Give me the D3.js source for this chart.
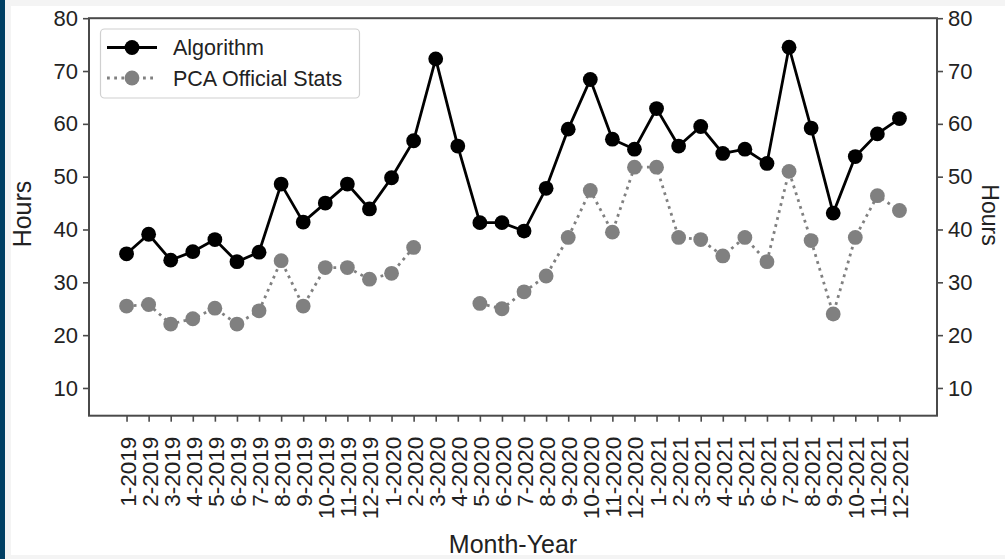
<!DOCTYPE html>
<html>
<head>
<meta charset="utf-8">
<script src="https://cdn.jsdelivr.net/npm/d3@7"></script>
<style>
  html, body { margin: 0; padding: 0; background: #f4f4f4; }
  svg { display: block; }
  text { font-family: "Liberation Sans", Arial, sans-serif; fill: #222; }
</style>
</head>
<body>
<svg id="chart" width="1005" height="559"></svg>
<script>
const months = [
  '1-2019', '2-2019', '3-2019', '4-2019', '5-2019', '6-2019', '7-2019', '8-2019', '9-2019', '10-2019', '11-2019', '12-2019',
  '1-2020', '2-2020', '3-2020', '4-2020', '5-2020', '6-2020', '7-2020', '8-2020', '9-2020', '10-2020', '11-2020', '12-2020',
  '1-2021', '2-2021', '3-2021', '4-2021', '5-2021', '6-2021', '7-2021', '8-2021', '9-2021', '10-2021', '11-2021', '12-2021'
];

const algorithm = [
  35.4, 39.1, 34.2, 35.8, 38.1, 33.9, 35.7, 48.6, 41.4, 45.0, 48.6, 43.9,
  49.8, 56.8, 72.3, 55.8, 41.3, 41.3, 39.7, 47.8, 59.0, 68.4, 57.1, 55.2,
  62.9, 55.8, 59.5, 54.4, 55.2, 52.5, 74.5, 59.2, 43.1, 53.8, 58.1, 61.0
];

// null = no official figure that month
const pcaStats = [
  25.5, 25.8, 22.1, 23.1, 25.1, 22.1, 24.6, 34.1, 25.5, 32.8, 32.8, 30.6,
  31.7, 36.6, null, null, 26.0, 25.0, 28.2, 31.2, 38.5, 47.4, 39.5, 51.8,
  51.8, 38.5, 38.1, 35.0, 38.5, 33.9, 51.0, 37.9, 24.0, 38.5, 46.4, 43.6
];

const yTicks = [10, 20, 30, 40, 50, 60, 70, 80];

const svg = d3.select('#chart');

// page background bits around the figure
svg.append('rect').attr('x', 0).attr('y', 0).attr('width', 1005).attr('height', 559).attr('fill', '#f4f4f4');
svg.append('rect').attr('x', 11).attr('y', 6).attr('width', 994).attr('height', 549).attr('fill', '#ffffff');
svg.append('rect').attr('x', 0).attr('y', 0).attr('width', 5).attr('height', 559).attr('fill', '#003f63');

const plot = { left: 89, right: 937, top: 18.2, bottom: 415.7 };

const x = d3.scaleLinear()
  .domain([-1.7, months.length - 1 + 1.7])
  .range([plot.left, plot.right]);

const y = d3.scaleLinear()
  .domain([4.75, 80])
  .range([plot.bottom, plot.top]);

const axisColor = '#4a4a4a';
const font = '"Liberation Sans", Arial, sans-serif';

// left axis
const yLeft = svg.append('g')
  .attr('transform', `translate(${plot.left},0)`)
  .call(d3.axisLeft(y).tickValues(yTicks).tickSize(6).tickPadding(5));
// right axis
const yRight = svg.append('g')
  .attr('transform', `translate(${plot.right},0)`)
  .call(d3.axisRight(y).tickValues(yTicks).tickSize(6).tickPadding(5));

[yLeft, yRight].forEach(g => {
  g.select('.domain').remove();
  g.selectAll('line').attr('stroke', axisColor).attr('stroke-width', 1.6);
  g.selectAll('text').attr('font-size', 22).attr('fill', '#222').attr('font-family', font);
});

// bottom axis
const xAxis = svg.append('g')
  .attr('transform', `translate(0,${plot.bottom})`)
  .call(d3.axisBottom(x).tickValues(d3.range(months.length)).tickFormat(i => months[i]).tickSize(6));
xAxis.select('.domain').remove();
xAxis.selectAll('line').attr('stroke', axisColor).attr('stroke-width', 1.6);
xAxis.selectAll('text')
  .attr('font-size', 22.5)
  .attr('font-family', font)
  .attr('fill', '#222')
  .attr('text-anchor', 'end')
  .attr('dy', null)
  .attr('y', null)
  .attr('transform', 'translate(1,21) rotate(-90)')
  .attr('dominant-baseline', 'central');

// frame
svg.append('rect')
  .attr('x', plot.left).attr('y', plot.top)
  .attr('width', plot.right - plot.left).attr('height', plot.bottom - plot.top)
  .attr('fill', 'none').attr('stroke', axisColor).attr('stroke-width', 2);

// axis titles
svg.append('text')
  .attr('x', (plot.left + plot.right) / 2).attr('y', 553)
  .attr('text-anchor', 'middle').attr('font-size', 25)
  .text('Month-Year');

svg.append('text')
  .attr('transform', 'translate(31,214) rotate(-90)')
  .attr('text-anchor', 'middle').attr('font-size', 25)
  .text('Hours');

svg.append('text')
  .attr('transform', 'translate(982,215) rotate(90)')
  .attr('text-anchor', 'middle').attr('font-size', 23)
  .text('Hours');

// series
const line = d3.line()
  .defined(d => d != null)
  .x((d, i) => x(i))
  .y(d => y(d));

svg.append('path')
  .datum(pcaStats)
  .attr('d', line)
  .attr('fill', 'none')
  .attr('stroke', '#808080')
  .attr('stroke-width', 2.8)
  .attr('stroke-dasharray', '2.8,4.4');

svg.append('g')
  .selectAll('circle')
  .data(pcaStats.map((v, i) => ({ v, i })).filter(d => d.v != null))
  .enter().append('circle')
    .attr('cx', d => x(d.i))
    .attr('cy', d => y(d.v))
    .attr('r', 7.4)
    .attr('fill', '#808080');

svg.append('path')
  .datum(algorithm)
  .attr('d', line)
  .attr('fill', 'none')
  .attr('stroke', '#000')
  .attr('stroke-width', 2.8);

svg.append('g')
  .selectAll('circle')
  .data(algorithm)
  .enter().append('circle')
    .attr('cx', (d, i) => x(i))
    .attr('cy', d => y(d))
    .attr('r', 7.4)
    .attr('fill', '#000');

// legend
const legend = svg.append('g');
legend.append('rect')
  .attr('x', 100.5).attr('y', 29).attr('width', 259).attr('height', 69).attr('rx', 4)
  .attr('fill', '#fff').attr('fill-opacity', 0.85)
  .attr('stroke', '#d0d0d0').attr('stroke-width', 1.2);

const legendItems = [
  { label: 'Algorithm', color: '#000', dash: null },
  { label: 'PCA Official Stats', color: '#808080', dash: '2.8,4.4' }
];

legendItems.forEach((item, k) => {
  const cy = 47.5 + k * 30.5;
  legend.append('line')
    .attr('x1', 107).attr('x2', 157).attr('y1', cy).attr('y2', cy)
    .attr('stroke', item.color).attr('stroke-width', 2.8)
    .attr('stroke-dasharray', item.dash);
  legend.append('circle')
    .attr('cx', 132).attr('cy', cy).attr('r', 7.4).attr('fill', item.color);
  legend.append('text')
    .attr('x', 173).attr('y', cy).attr('dy', '0.35em')
    .attr('font-size', 21.5)
    .text(item.label);
});
</script>
</body>
</html>
